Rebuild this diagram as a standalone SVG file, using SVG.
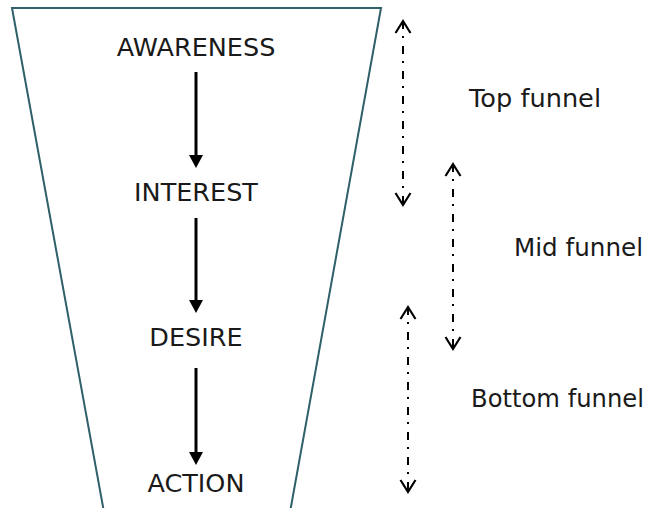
<svg xmlns="http://www.w3.org/2000/svg" width="648" height="508" viewBox="0 0 648 508">
  <style>
    .stage { font-family: "DejaVu Sans", Verdana, sans-serif; font-size: 25.5px; fill: #1a1a1a; text-anchor: middle; }
    .label { font-family: "DejaVu Sans", Verdana, sans-serif; font-size: 25px; fill: #1a1a1a; }
    .flow { stroke: #000; stroke-width: 3; fill: none; }
    .range { stroke: #000; stroke-width: 2; fill: none; stroke-dasharray: 8 7 2 8; marker-start: url(#chev); marker-end: url(#chev); }
  </style>
  <defs>
    <marker id="chev" viewBox="0 0 14 16" refX="12" refY="8" markerUnits="userSpaceOnUse" markerWidth="14" markerHeight="16" orient="auto-start-reverse" overflow="visible">
      <path d="M0,0.5 L12,8 L0,15.5" fill="none" stroke="#000" stroke-width="2.2" stroke-dasharray="none"/>
    </marker>
  </defs>
  <rect width="648" height="508" fill="#fff"/>
  <g id="funnel">
    <polygon points="12,8 381,8 290.4,510 103.6,510" fill="#fff" stroke="#2f5f68" stroke-width="2"/>
  </g>
  <g id="awareness"><text class="stage" x="196" y="56">AWARENESS</text></g>
  <g id="interest"><text class="stage" x="196" y="201">INTEREST</text></g>
  <g id="desire"><text class="stage" x="196" y="346">DESIRE</text></g>
  <g id="action"><text class="stage" x="196" y="492">ACTION</text></g>
  <g id="top-funnel"><text class="label" x="469" y="107" textLength="132" lengthAdjust="spacingAndGlyphs">Top funnel</text></g>
  <g id="mid-funnel"><text class="label" x="514" y="256" textLength="129" lengthAdjust="spacingAndGlyphs">Mid funnel</text></g>
  <g id="bottom-funnel"><text class="label" x="471" y="407" textLength="173" lengthAdjust="spacingAndGlyphs">Bottom funnel</text></g>
  <g id="connectors">
    <line class="flow" x1="196" y1="72" x2="196" y2="156"/>
    <polygon points="189,155 203,155 196,168" fill="#000"/>
    <line class="flow" x1="196" y1="218" x2="196" y2="301"/>
    <polygon points="189,300 203,300 196,313" fill="#000"/>
    <line class="flow" x1="196" y1="368" x2="196" y2="453"/>
    <polygon points="189,452 203,452 196,465" fill="#000"/>
    <line class="range" x1="403" y1="21" x2="403" y2="205"/>
    <line class="range" x1="453" y1="164" x2="453" y2="349"/>
    <line class="range" x1="408" y1="307" x2="408" y2="492"/>
  </g>
</svg>
